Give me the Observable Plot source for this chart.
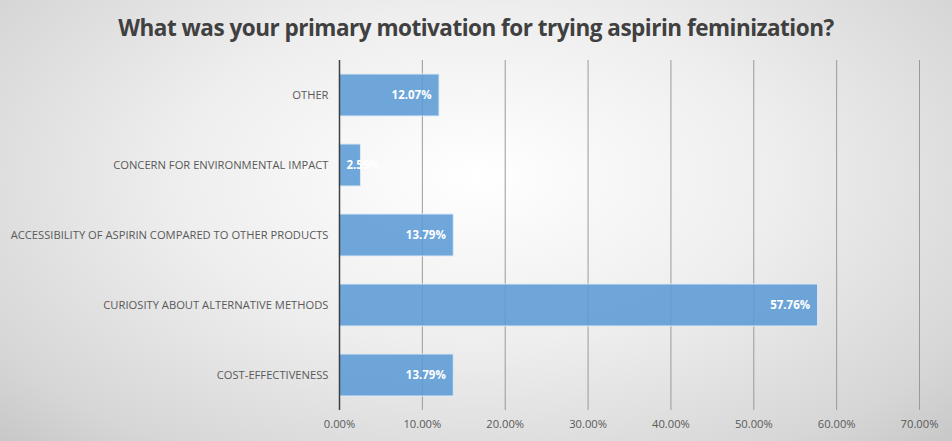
<!DOCTYPE html>
<html>
<head>
<meta charset="utf-8">
<script src="https://cdn.jsdelivr.net/npm/d3@7"></script>
<script src="https://cdn.jsdelivr.net/npm/@observablehq/plot@0.6"></script>
<style>
  html, body { margin: 0; padding: 0; }
  #wrap {
    width: 952px; height: 441px; overflow: hidden; position: relative;
    background: radial-gradient(ellipse 70% 85% at 50% 40%, #ffffff 0%, #eeeeee 45%, #d6d6d6 85%, #c8c8c8 100%);
  }
  #title {
    height: 55px; line-height: 56px; text-align: center;
    font-family: "Open Sans", sans-serif; font-weight: 700; font-size: 22.5px;
    color: #404040; letter-spacing: -0.5px;
  }
  #chart svg { background: transparent !important; display: block; }
</style>
</head>
<body>
<div id="wrap">
  <div id="title">What was your primary motivation for trying aspirin feminization?</div>
  <div id="chart"></div>
</div>
<script>
const categories = [
  "OTHER",
  "CONCERN FOR ENVIRONMENTAL IMPACT",
  "ACCESSIBILITY OF ASPIRIN COMPARED TO OTHER PRODUCTS",
  "CURIOSITY ABOUT ALTERNATIVE METHODS",
  "COST-EFFECTIVENESS"
];
const values = [12.07, 2.59, 13.79, 57.76, 13.79];
const xTicks = [0, 10, 20, 30, 40, 50, 60, 70];

const data = categories.map((c, i) => ({category: c, value: values[i]}));
const fmt = d => d.toFixed(2) + "%";
const wide = data.filter(d => d.value >= 5);
const narrow = data.filter(d => d.value < 5);

const plot = Plot.plot({
  width: 952,
  height: 386,
  marginTop: 5,
  marginBottom: 31,
  marginLeft: 339,
  marginRight: 33,
  style: {fontFamily: "Open Sans, sans-serif", fontSize: "11.2px", color: "#595959", background: "transparent"},
  x: {domain: [0, 70], ticks: xTicks, tickFormat: fmt, label: null, grid: false},
  y: {domain: categories, label: null, paddingInner: 0.4, paddingOuter: 0.2},
  marks: [
    Plot.ruleX(xTicks.slice(1), {stroke: "#9a9a9a", strokeWidth: 1}),
    Plot.barX(data, {y: "category", x: "value", fill: "#5b9bd5", fillOpacity: 0.88, stroke: "#ddeaf6", strokeWidth: 1}),
    Plot.text(wide, {y: "category", x: "value", text: d => fmt(d.value), textAnchor: "end", dx: -8, fill: "white", fontWeight: "bold", fontSize: 11.5}),
    Plot.text(narrow, {y: "category", x: 0, text: d => fmt(d.value), textAnchor: "start", dx: 7, fill: "white", fontWeight: "bold", fontSize: 11.5}),
    Plot.ruleX([0], {stroke: "#404040", strokeWidth: 1.5}),
    Plot.axisX({ticks: xTicks, tickFormat: fmt, tickSize: 0, tickPadding: 10, label: null, fill: "#595959"}),
    Plot.axisY({tickSize: 0, tickPadding: 11, label: null, fill: "#595959"})
  ]
});
document.getElementById("chart").appendChild(plot);
</script>
</body>
</html>
